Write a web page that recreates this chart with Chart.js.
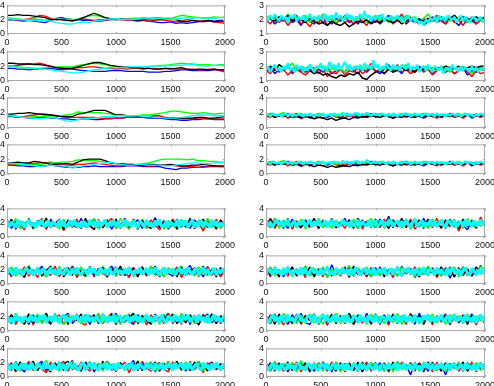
<!DOCTYPE html>
<html>
<head>
<meta charset="utf-8">
<script src="https://cdn.jsdelivr.net/npm/chart.js@4.4.1/dist/chart.umd.min.js"></script>
<style>
  html, body { margin: 0; padding: 0; background: #fff; overflow: hidden; }
  body { width: 494px; height: 386px; position: relative; }
  canvas { position: absolute; }
</style>
</head>
<body>
<script>
// axis ticks
const xTicks = [0, 500, 1000, 1500, 2000];
const yTicksWide = [0, 2, 4];
const yTicksNarrow = [1, 2, 3];

const lineColors = { blue: '#0000ff', red: '#ff0000', green: '#00ff00', black: '#000000', cyan: '#00ffff' };
// first one ends up on top in chart.js
const stackOrder = ['cyan', 'black', 'green', 'red', 'blue'];

// ---- left column, top block (slow drifting series, one value every 50 steps)
const left1 = {
  black: [2.6,2.6,2.7,2.6,2.6,2.5,2.4,2.3,2.0,2.0,2.0,1.9,1.8,2.0,2.3,2.6,2.9,2.6,2.3,2.1,2.0,2.0,2.1,2.0,1.9,2.0,2.1,2.0,2.0,2.1,2.0,2.0,1.8,1.7,1.9,1.8,1.8,1.9,1.7,1.8,1.8],
  red:   [2.2,2.1,2.0,2.0,2.1,2.3,2.6,2.5,2.2,2.0,2.0,1.9,1.9,2.0,2.1,2.0,1.9,2.0,2.0,2.0,2.1,2.0,1.9,2.0,2.0,1.9,1.8,1.9,2.0,1.9,1.8,1.7,1.8,2.0,1.9,1.8,1.7,1.8,1.7,1.6,1.5],
  green: [2.3,2.2,2.1,2.0,2.0,2.1,2.0,1.9,2.0,2.1,2.0,2.1,2.0,2.1,2.3,2.5,2.6,2.5,2.3,2.2,2.1,2.0,2.1,2.2,2.2,2.3,2.2,2.3,2.3,2.2,2.2,2.4,2.6,2.5,2.4,2.3,2.2,2.3,2.4,2.3,2.4],
  blue:  [1.9,2.0,1.9,1.8,1.9,1.8,1.7,1.6,1.9,2.2,2.3,2.1,2.0,2.0,1.9,1.9,1.8,1.8,1.9,2.0,2.0,2.1,2.0,1.9,1.8,1.9,1.8,1.7,1.6,1.6,1.7,1.5,1.6,1.5,1.6,1.7,1.8,1.9,1.8,1.9,1.9],
  cyan:  [2.2,2.1,2.0,2.0,1.9,1.9,1.8,1.9,1.8,1.6,1.5,1.4,1.4,1.6,1.7,1.6,1.8,1.9,2.0,2.1,2.1,2.0,2.1,2.0,2.1,2.2,2.1,2.1,2.2,2.1,2.0,2.1,2.2,2.3,2.2,2.3,2.3,2.2,2.2,2.3,2.3]
};
const left2 = {
  black: [2.4,2.4,2.3,2.3,2.3,2.2,2.2,2.1,2.0,1.8,1.7,1.7,1.7,1.9,2.1,2.3,2.5,2.5,2.3,2.1,2.0,1.9,1.9,1.8,1.8,1.7,1.7,1.6,1.6,1.7,1.6,1.7,1.8,1.6,1.5,1.6,1.6,1.5,1.6,1.5,1.5],
  red:   [2.0,2.0,2.1,2.2,2.3,2.3,2.4,2.2,1.9,1.8,1.8,1.7,1.7,1.8,1.8,1.9,1.9,1.8,1.7,1.7,1.6,1.7,1.6,1.7,1.7,1.6,1.7,1.7,1.6,1.7,1.7,1.6,1.6,1.6,1.6,1.5,1.5,1.6,1.6,1.4,1.2],
  green: [2.1,2.0,1.9,1.8,1.8,1.7,1.7,1.8,1.8,1.9,1.9,1.9,1.9,2.1,2.2,2.3,2.4,2.3,2.2,2.0,1.9,1.8,1.8,1.8,1.8,1.9,1.9,2.0,2.1,2.1,2.2,2.3,2.4,2.3,2.3,2.2,2.2,2.2,2.1,2.2,2.2],
  blue:  [1.7,1.7,1.6,1.6,1.5,1.6,1.6,1.7,1.7,1.6,1.5,1.6,1.6,1.5,1.4,1.4,1.3,1.3,1.3,1.4,1.4,1.4,1.3,1.3,1.3,1.3,1.2,1.2,1.2,1.3,1.3,1.4,1.5,1.5,1.4,1.4,1.4,1.4,1.5,1.5,1.5],
  cyan:  [1.9,1.9,1.8,1.8,1.7,1.7,1.6,1.6,1.5,1.4,1.3,1.2,1.1,1.1,1.2,1.4,1.5,1.6,1.7,1.8,1.8,1.8,1.9,1.9,1.9,1.9,2.0,2.0,2.0,2.0,2.1,2.1,2.1,2.2,2.2,2.1,2.0,2.0,2.1,2.1,2.1]
};
const left3 = {
  black: [1.8,1.8,1.9,1.9,2.0,1.9,1.8,1.8,1.7,1.6,1.5,1.5,1.5,1.8,1.9,2.1,2.3,2.3,2.3,2.0,1.7,1.7,1.6,1.6,1.5,1.5,1.5,1.4,1.4,1.3,1.3,1.3,1.3,1.3,1.3,1.4,1.4,1.3,1.3,1.4,1.5],
  red:   [1.7,1.6,1.5,1.5,1.6,1.7,1.8,1.7,1.7,1.6,1.5,1.4,1.4,1.4,1.4,1.4,1.4,1.3,1.3,1.3,1.3,1.3,1.4,1.4,1.4,1.5,1.5,1.6,1.6,1.4,1.3,1.3,1.2,1.2,1.2,1.3,1.3,1.2,1.2,1.2,1.2],
  green: [1.6,1.6,1.5,1.4,1.4,1.5,1.5,1.5,1.6,1.6,1.6,1.7,1.8,2.1,2.0,2.0,2.0,2.0,1.9,1.8,1.7,1.7,1.6,1.6,1.6,1.7,1.7,1.8,1.9,2.0,2.2,2.2,2.1,2.0,1.9,1.9,2.0,1.9,1.8,1.9,1.9],
  blue:  [1.5,1.5,1.4,1.4,1.3,1.3,1.4,1.4,1.3,1.3,1.2,1.2,1.1,1.1,1.2,1.2,1.1,1.1,1.2,1.2,1.3,1.3,1.4,1.4,1.4,1.4,1.3,1.3,1.3,1.2,1.1,1.1,1.0,1.0,1.1,1.1,1.2,1.2,1.1,1.1,1.1],
  cyan:  [1.7,1.6,1.5,1.4,1.3,1.3,1.2,1.3,1.4,1.3,1.1,0.9,0.9,1.1,1.2,1.3,1.3,1.4,1.5,1.5,1.6,1.6,1.6,1.6,1.6,1.5,1.5,1.4,1.4,1.3,1.3,1.3,1.4,1.5,1.6,1.7,1.7,1.7,1.6,1.6,1.6]
};
const left4 = {
  black: [1.5,1.5,1.6,1.5,1.5,1.7,1.6,1.5,1.3,1.3,1.4,1.4,1.3,1.6,1.9,2.0,2.0,2.0,1.8,1.5,1.4,1.4,1.3,1.3,1.2,1.2,1.3,1.3,1.2,1.2,1.3,1.2,1.1,1.1,1.2,1.2,1.3,1.2,1.1,1.1,1.1],
  red:   [1.3,1.3,1.2,1.3,1.4,1.4,1.5,1.5,1.6,1.4,1.3,1.2,1.2,1.3,1.3,1.4,1.5,1.4,1.3,1.2,1.1,1.1,1.2,1.2,1.2,1.1,1.1,1.1,1.2,1.2,1.2,1.1,1.0,1.0,1.0,0.9,0.9,1.0,1.1,1.0,1.0],
  green: [1.4,1.4,1.3,1.2,1.2,1.3,1.3,1.4,1.5,1.5,1.6,1.6,1.7,1.9,1.9,1.8,1.8,1.7,1.6,1.5,1.4,1.4,1.3,1.3,1.3,1.4,1.5,1.7,1.9,2.0,2.0,2.0,2.0,1.9,2.0,1.8,1.8,1.7,1.7,1.6,1.6],
  blue:  [1.2,1.2,1.1,1.1,1.0,1.0,1.1,1.1,1.2,1.1,1.0,0.9,0.9,0.9,1.0,1.0,1.1,1.0,1.0,1.0,1.0,1.0,1.1,1.1,1.1,1.0,1.0,1.0,1.0,0.8,0.7,0.6,0.8,0.8,0.9,0.9,1.0,1.0,1.0,1.0,1.0],
  cyan:  [1.5,1.4,1.4,1.3,1.2,1.1,1.0,1.1,1.2,1.1,1.1,1.0,0.8,1.0,1.1,1.2,1.3,1.4,1.5,1.6,1.4,1.3,1.2,1.2,1.3,1.3,1.2,1.2,1.2,1.1,1.1,1.2,1.3,1.4,1.5,1.5,1.4,1.4,1.5,1.5,1.5]
};

// ---- right column, top block (noisy with drift)
const right1 = {
  blue:  [1.8,2.1,1.7,2.0,1.9,2.3,1.8,2.0,1.6,2.1,1.9,1.7,2.2,1.8,2.0,1.7,2.1,1.9,2.3,1.8,2.0,1.7,2.2,1.9,1.8,2.1,1.7,2.0,2.3,1.8,1.9,2.2,1.7,2.0,1.8,2.1,1.6,1.9,2.2,1.8,2.0,1.7,2.1,1.9,1.6,2.0,1.8,2.2,1.7,2.0,1.9],
  red:   [2.0,1.7,2.2,1.8,2.1,1.6,2.0,2.3,1.7,1.9,1.5,2.0,1.8,2.2,1.6,1.9,1.7,2.1,1.8,2.0,1.7,2.2,1.9,1.6,2.1,1.8,2.3,1.9,2.1,1.7,2.0,2.4,1.8,2.2,1.9,1.7,2.1,1.8,2.0,2.3,1.9,1.7,2.2,1.8,2.0,1.6,2.1,1.9,1.7,2.0,1.8],
  green: [2.1,2.3,1.9,2.2,2.0,2.4,1.9,2.2,2.0,2.3,1.8,2.2,2.0,2.4,1.9,2.1,1.8,2.2,2.0,2.3,1.9,2.1,2.2,1.8,2.0,2.3,1.9,2.1,1.8,2.2,2.0,1.9,2.3,2.0,2.2,1.8,2.1,2.4,1.9,2.2,2.0,2.1,1.9,2.3,2.0,2.2,1.8,2.1,2.2,1.9,2.1],
  black: [1.8,2.1,1.9,2.2,2.0,2.3,1.9,2.1,2.0,1.8,2.1,1.9,1.7,1.8,1.6,1.9,1.7,1.6,1.8,1.5,1.7,1.9,1.8,2.0,1.7,1.9,1.8,2.1,1.9,1.8,2.0,1.7,1.9,2.1,1.8,2.0,1.9,2.1,1.9,2.0,2.2,1.9,2.1,2.3,2.0,2.2,2.1,1.9,2.2,2.0,2.2],
  cyan:  [2.2,1.9,2.3,2.0,2.4,2.1,1.9,2.3,2.0,2.2,1.8,2.3,2.1,2.4,1.9,2.2,2.0,2.3,1.9,2.1,2.4,2.0,2.2,1.9,2.3,2.1,2.0,2.4,1.9,2.2,2.3,2.0,2.5,2.1,2.3,1.9,2.2,2.4,2.0,2.3,1.9,2.2,2.1,2.4,2.0,2.6,2.1,2.3,1.9,2.2,2.0,2.3,2.1,2.4,1.9,2.2,2.0,2.3,1.9,2.1,2.3,2.0,2.2,1.8,2.1,2.3,1.9,2.2,1.8,2.0,1.7,1.9,1.6,2.0,1.8,2.1,1.9,2.2,1.8,2.3,2.0,2.2,1.9,2.3,2.1,2.0,2.2,1.8,2.1,2.3,1.9,2.2,2.0,1.8,2.1,2.2,1.9,2.0,2.2,1.8,2.1]
};
const right2 = {
  blue:  [1.6,1.9,1.5,1.8,1.7,2.0,1.5,1.8,1.6,1.9,1.7,1.5,1.8,1.6,1.9,1.5,1.7,1.8,1.6,2.0,1.7,1.5,1.8,1.6,1.9,1.7,1.5,1.8,2.1,1.6,1.8,1.5,1.9,1.7,1.6,2.0,1.7,1.8,1.5,1.7,1.9,1.6,1.8,1.5,1.7,1.9,1.4,1.7,1.6,1.8,1.7],
  red:   [1.7,1.5,1.9,1.6,1.8,1.4,1.7,2.0,1.6,1.4,1.7,1.9,1.5,1.8,1.3,1.6,1.5,1.8,1.4,1.7,1.6,1.9,1.5,1.7,2.2,1.6,1.8,1.5,1.9,1.7,2.1,1.6,1.8,1.5,1.7,1.9,1.6,1.8,1.4,1.7,2.0,1.6,1.8,1.5,1.7,1.9,1.6,1.3,1.7,1.5,1.6],
  green: [1.8,2.0,1.7,2.1,1.8,1.9,2.2,1.7,2.0,1.8,2.1,1.7,1.9,2.0,1.6,1.9,1.7,1.8,1.6,1.9,1.8,2.0,1.7,1.9,1.8,2.1,1.7,1.9,1.8,2.0,1.7,1.9,2.1,1.8,1.9,1.7,2.0,1.8,1.9,1.7,2.0,1.8,1.6,1.9,1.7,2.0,1.8,1.5,1.8,1.9,1.7],
  black: [1.8,2.0,1.7,2.1,1.9,2.0,1.7,1.9,1.8,1.6,1.8,1.5,1.6,1.4,1.5,1.3,1.2,1.4,1.3,1.5,1.4,1.6,1.2,1.1,1.4,1.6,1.7,1.5,1.8,1.6,1.7,1.9,1.7,1.8,1.6,1.9,1.8,2.0,1.7,1.9,1.8,2.0,1.9,1.8,2.0,1.7,1.9,2.0,1.9,2.0,2.0],
  cyan:  [1.7,2.0,1.6,1.9,2.1,1.7,1.9,1.6,2.0,1.8,2.2,1.7,1.9,1.6,2.1,1.8,2.0,1.6,1.9,1.7,2.1,1.8,1.6,2.0,1.9,2.2,1.7,2.0,1.8,2.3,1.9,2.1,1.7,2.2,1.8,2.0,2.3,1.8,2.1,1.7,1.9,2.0,1.8,2.1,1.7,2.2,1.9,2.0,1.8,2.4,1.9,2.1,1.7,2.0,1.8,2.2,1.9,1.7,2.1,1.8,2.0,1.7,2.1,1.9,1.8,2.2,1.7,2.0,1.8,2.1,1.6,1.9,2.0,1.7,2.1,1.8,1.6,2.0,1.9,1.7,2.0,1.5,1.8,1.9,1.7,2.1,1.8,1.9,1.6,2.0,1.7,1.9,1.8,1.6,2.0,1.7,1.9,1.6,1.8,1.9,1.7]
};
const right3 = {
  blue:  [1.5,1.8,1.4,1.7,1.5,1.9,1.4,1.6,1.5,1.8,1.3,1.6,1.5,1.8,1.4,1.7,1.5,1.3,1.7,1.5,1.8,1.4,1.6,1.5,1.9,1.4,1.7,1.5,1.8,1.3,1.6,1.5,1.9,1.4,1.7,1.5,1.3,1.6,1.8,1.4,1.7,1.5,1.9,1.4,1.6,1.5,1.8,1.3,1.6,1.5,1.7],
  red:   [1.6,1.4,1.8,1.5,1.7,1.3,1.6,1.9,1.2,1.6,1.4,1.7,1.5,1.3,1.6,1.8,1.4,1.6,1.3,1.7,1.5,1.8,1.4,1.6,1.5,1.9,1.4,1.7,1.5,1.3,1.6,1.8,1.4,1.7,1.5,1.6,1.4,1.8,1.5,1.3,1.7,1.5,1.8,1.4,1.6,1.3,1.7,1.5,1.6,1.4,1.7],
  green: [1.7,1.9,1.6,1.8,2.0,1.6,1.8,1.7,1.9,1.5,1.8,1.6,1.9,1.7,1.6,1.8,1.5,1.7,1.6,1.8,1.7,1.9,1.6,1.8,1.5,1.7,1.9,1.6,1.8,1.7,1.6,1.9,1.7,1.8,1.5,1.7,1.9,1.6,1.8,1.7,1.6,1.8,1.5,1.7,1.9,1.6,1.8,1.5,1.7,1.8,1.6],
  black: [1.5,1.7,1.4,1.6,1.5,1.7,1.4,1.5,1.3,1.5,1.4,1.2,1.4,1.3,1.1,1.3,1.0,1.2,1.3,1.1,1.4,1.3,1.5,1.4,1.6,1.5,1.4,1.6,1.5,1.3,1.5,1.4,1.6,1.5,1.4,1.6,1.5,1.7,1.5,1.6,1.4,1.6,1.5,1.7,1.6,1.5,1.7,1.6,1.8,1.6,1.7],
  cyan:  [1.6,1.8,1.5,1.9,1.7,1.6,1.8,1.5,1.7,1.9,1.6,1.8,1.5,1.7,1.6,1.9,1.7,1.5,1.8,1.6,1.9,1.7,1.5,1.8,1.6,1.7,1.9,1.5,1.7,1.8,1.6,1.9,1.7,1.8,1.6,2.0,1.7,1.9,1.6,1.8,1.7,2.0,1.8,1.6,1.9,1.7,2.0,1.8,1.6,1.9,1.7,1.8,1.6,1.9,1.7,1.5,1.8,1.6,1.9,1.7,1.5,1.8,1.6,1.9,1.7,1.8,1.5,1.7,1.9,1.6,1.8,1.5,1.7,1.9,1.6,1.8,1.7,1.5,1.9,1.6,1.8,1.7,1.5,1.8,1.6,1.9,1.7,1.6,1.8,1.5,1.7,1.9,1.6,1.8,1.7,1.5,1.8,1.6,1.9,1.7,1.7]
};
const right4 = {
  blue:  [1.3,1.6,1.2,1.5,1.3,1.7,1.2,1.4,1.3,1.6,1.1,1.4,1.3,1.6,1.2,1.5,1.3,1.1,1.4,1.3,1.6,1.2,1.4,1.3,1.7,1.2,1.5,1.3,1.6,1.1,1.4,1.3,1.7,1.2,1.5,1.3,1.1,1.4,1.6,1.2,1.5,1.3,1.7,1.2,1.4,1.3,1.6,1.1,1.4,1.3,1.5],
  red:   [1.4,1.2,1.6,1.3,1.5,1.1,1.4,1.7,1.0,1.4,1.2,1.5,1.3,1.1,1.4,1.6,1.2,1.4,1.1,1.5,1.3,1.6,1.2,1.4,1.3,1.7,1.2,1.5,1.3,1.1,1.4,1.6,1.2,1.5,1.3,1.4,1.2,1.6,1.3,1.1,1.5,1.3,1.6,1.2,1.4,1.1,1.5,1.3,1.4,1.2,1.5],
  green: [1.5,1.7,1.4,1.6,1.8,1.4,1.6,1.5,1.7,1.3,1.6,1.4,1.7,1.5,1.4,1.6,1.3,1.5,1.4,1.6,1.5,1.7,1.4,1.6,1.3,1.5,1.7,1.4,1.6,1.5,1.4,1.7,1.5,1.6,1.3,1.5,1.7,1.4,1.6,1.5,1.4,1.6,1.3,1.5,1.7,1.4,1.6,1.3,1.5,1.6,1.4],
  black: [1.3,1.5,1.2,1.4,1.3,1.5,1.2,1.3,1.1,1.3,1.2,1.0,1.2,1.1,0.9,1.1,0.9,1.0,1.1,1.0,1.2,1.1,1.3,1.2,1.4,1.3,1.2,1.4,1.3,1.1,1.3,1.2,1.4,1.3,1.2,1.4,1.3,1.5,1.3,1.4,1.2,1.4,1.3,1.5,1.4,1.3,1.5,1.4,1.6,1.4,1.5],
  cyan:  [1.4,1.6,1.3,1.7,1.5,1.4,1.6,1.3,1.5,1.7,1.4,1.6,1.3,1.5,1.4,1.7,1.5,1.3,1.6,1.4,1.7,1.5,1.3,1.6,1.4,1.5,1.7,1.3,1.5,1.6,1.4,1.7,1.5,1.6,1.4,1.8,1.5,1.7,1.4,1.6,1.5,1.8,1.6,1.4,1.7,1.5,1.9,1.6,1.4,1.7,1.5,1.6,1.4,1.7,1.5,1.3,1.6,1.4,1.7,1.5,1.3,1.6,1.4,1.7,1.5,1.6,1.3,1.5,1.7,1.4,1.6,1.3,1.5,1.7,1.4,1.6,1.5,1.3,1.7,1.4,1.6,1.5,1.3,1.6,1.4,1.7,1.5,1.4,1.6,1.3,1.5,1.7,1.4,1.6,1.5,1.3,1.6,1.4,1.7,1.5,1.5]
};

// ---- bottom block, left column (plain noise)
const left5 = {
  blue:  [2.5,1.2,2.2,1.6,1.1,2.6,1.4,2.3,1.9,1.2,2.5,1.5,2.1,1.0,2.4,1.7,1.3,2.6,1.4,2.0,2.5,1.2,1.8,2.4,1.1,2.2,1.5,2.6,1.3,1.9,2.4,1.2,2.1,1.6,2.7,1.3,2.3,1.1,1.8,2.5,1.4,2.2,1.2,2.4,1.7,1.1,2.5,1.5,2.3,1.3,2.2],
  red:   [1.2,2.4,1.6,2.1,1.0,2.5,1.3,1.9,2.6,1.1,2.2,1.5,2.4,0.9,2.0,1.4,2.5,1.2,2.3,1.7,1.0,2.4,1.3,2.1,2.6,1.2,1.8,2.3,1.1,2.5,1.4,2.0,1.2,2.4,1.6,1.0,2.2,1.3,2.5,1.1,2.1,1.5,2.4,1.2,2.0,0.8,2.3,1.4,2.5,1.2,2.1],
  green: [2.3,1.5,2.6,1.2,1.9,2.4,1.1,2.2,1.6,2.7,1.3,2.0,1.1,2.5,1.4,2.2,1.7,1.2,2.4,1.5,2.6,1.1,2.0,1.4,2.3,1.2,2.6,1.6,1.1,2.2,1.4,2.5,1.2,2.0,1.6,2.4,1.1,2.3,1.5,1.2,2.5,1.3,2.1,1.7,2.4,1.2,2.6,1.4,2.0,1.3,2.4],
  black: [1.3,2.5,1.1,2.2,1.7,2.4,1.2,2.0,1.5,2.6,1.3,1.9,2.5,1.1,2.3,1.4,2.1,1.2,2.6,1.5,1.1,2.4,1.3,2.2,1.6,2.5,1.2,2.0,1.4,2.4,1.1,2.3,1.6,1.2,2.5,1.3,2.1,1.5,2.4,1.1,2.2,1.4,2.6,1.2,1.9,2.5,1.3,2.2,1.1,2.4,1.5],
  cyan:  [2.3,1.4,2.1,1.8,1.3,2.4,1.6,2.2,1.3,1.9,2.4,1.5,2.0,1.3,2.2,1.7,2.4,1.4,1.6,2.3,1.3,2.1,1.9,1.4,2.4,1.5,2.2,1.3,1.8,2.3,1.5,2.4,1.4,2.0,1.3,2.2,1.7,1.4,2.4,1.6,2.1,1.3,2.3,1.5,1.9,2.4,1.3,2.0,1.6,2.3,1.4,2.2,1.3,1.8,2.4,1.5,2.1,1.4,2.3,1.6,1.3,2.2,1.9,1.4,2.4,1.5,2.0,1.3,2.3,1.7,2.4,1.4,1.6,2.2,1.3,2.1,1.8,1.5,2.4,1.3,2.2,1.6,2.3,1.4,1.9,2.4,1.3,2.0,1.5,2.3,1.4,2.1,1.7,1.3,2.4,1.6,2.2,1.4,2.0,1.5,2.3]
};
const left6 = {
  blue:  [1.1,2.3,1.5,2.0,0.9,2.4,1.3,1.8,2.5,1.0,2.1,1.4,2.3,1.1,1.7,2.5,1.2,2.0,1.5,2.4,1.0,2.2,1.3,1.9,2.5,1.1,2.1,1.6,1.0,2.3,1.4,2.4,1.2,1.8,2.5,1.0,2.2,1.5,1.1,2.3,1.3,2.0,2.6,1.2,1.9,1.0,2.4,1.4,2.1,1.1,2.2],
  red:   [2.2,1.0,1.9,1.4,2.4,1.1,2.0,0.9,2.3,1.5,1.2,2.5,1.0,2.1,1.6,2.3,0.9,1.9,1.3,2.4,1.1,2.2,1.5,1.0,2.0,2.4,1.2,1.8,0.9,2.3,1.4,2.1,1.1,2.5,1.3,1.9,1.0,2.2,1.6,2.4,0.9,2.0,1.3,2.3,1.1,1.8,2.4,1.2,2.1,1.0,2.0],
  green: [1.5,2.4,1.1,2.1,1.7,2.6,1.2,2.0,1.4,1.0,2.3,1.3,2.5,1.1,1.9,2.2,1.3,2.4,1.0,2.1,1.6,1.2,2.5,1.4,2.0,1.1,2.3,1.5,2.4,1.0,1.8,2.2,1.3,2.5,1.2,1.9,1.0,2.3,1.4,2.1,2.5,1.2,2.0,1.1,2.4,1.5,1.2,2.2,1.0,2.3,1.4],
  black: [2.3,1.2,2.0,1.5,1.0,2.4,1.3,2.2,1.1,1.9,2.5,1.4,2.0,1.0,2.3,1.2,2.1,1.6,1.1,2.4,1.3,1.9,2.3,1.0,2.1,1.4,2.5,1.2,1.8,2.2,1.0,2.4,1.3,2.0,1.5,1.1,2.3,1.4,2.1,1.0,2.4,1.2,1.9,2.2,1.1,2.5,1.3,2.0,1.0,2.3,1.4],
  cyan:  [1.3,2.2,1.6,1.2,2.3,1.5,2.0,1.2,1.8,2.3,1.4,2.1,1.2,1.7,2.3,1.3,1.9,2.2,1.2,1.6,2.3,1.4,2.0,1.2,2.2,1.5,1.3,2.3,1.8,1.2,2.1,1.4,2.3,1.6,1.2,2.0,1.9,1.3,2.3,1.5,2.2,1.2,1.7,2.3,1.4,2.0,1.2,2.2,1.6,1.3,2.3,1.5,1.9,1.2,2.2,1.4,2.3,1.7,1.2,2.0,1.5,2.3,1.3,1.8,2.2,1.2,2.1,1.4,2.3,1.6,1.2,1.9,2.3,1.3,2.0,1.5,2.2,1.2,1.7,2.3,1.4,2.1,1.2,2.3,1.6,1.3,2.0,2.2,1.2,1.8,2.3,1.4,2.1,1.3,1.6,2.3,1.2,2.0,1.5,2.2,1.4]
};
const left7 = {
  blue:  [2.1,1.0,2.3,1.4,1.8,0.9,2.2,1.2,2.0,1.5,0.9,2.3,1.1,1.9,2.4,1.0,1.7,1.3,2.2,0.9,2.0,1.4,2.3,1.1,1.8,2.4,1.0,2.1,1.3,0.9,2.2,1.5,2.0,1.0,2.3,1.2,1.7,2.4,1.0,1.9,1.3,2.2,0.9,2.1,1.4,1.8,2.3,1.1,2.0,1.0,2.2],
  red:   [1.1,2.2,0.9,1.9,1.4,2.3,0.8,2.0,1.2,2.4,1.0,1.7,2.2,0.9,2.0,1.3,2.3,1.1,0.8,2.1,1.5,2.2,1.0,1.8,2.4,0.9,2.0,1.2,2.3,1.0,1.6,2.1,0.8,2.2,1.3,1.9,1.0,2.4,1.1,1.8,0.9,2.2,1.4,2.0,0.8,2.3,1.2,1.9,1.0,2.1,1.3],
  green: [1.9,1.1,2.4,1.3,0.9,2.1,1.5,2.3,1.0,2.0,1.2,2.4,1.4,0.9,2.2,1.6,2.0,1.0,2.3,1.2,1.8,2.4,1.1,1.9,1.4,2.2,0.9,2.1,1.3,2.4,1.0,1.7,2.2,1.2,2.0,0.9,2.3,1.4,1.9,1.1,2.4,1.3,2.0,1.0,2.2,1.5,1.1,2.3,1.2,2.0,1.1],
  black: [1.0,2.2,1.3,1.9,0.9,2.3,1.1,2.0,1.5,2.4,1.0,1.8,1.2,2.2,0.9,2.1,1.4,2.3,1.1,1.7,2.2,1.0,1.9,1.3,2.3,0.9,2.0,1.2,1.8,2.4,1.0,2.1,1.4,0.9,2.2,1.2,2.0,1.5,2.3,1.0,1.9,1.1,2.2,1.3,0.9,2.1,1.4,2.3,1.0,2.0,1.2],
  cyan:  [2.1,1.2,1.8,1.1,2.2,1.4,1.9,1.1,2.0,1.6,1.2,2.2,1.3,1.9,1.1,2.1,1.5,2.2,1.1,1.7,2.0,1.2,2.2,1.4,1.1,1.9,2.2,1.3,1.8,1.1,2.1,1.5,2.2,1.2,1.6,2.0,1.1,2.2,1.3,1.9,1.2,2.1,1.4,1.1,2.2,1.7,1.2,2.0,1.3,2.2,1.1,1.8,2.1,1.2,1.5,2.2,1.1,1.9,1.4,2.2,1.2,2.0,1.1,1.7,2.2,1.3,1.9,1.1,2.1,1.6,1.2,2.2,1.4,1.1,2.0,1.8,1.2,2.2,1.3,1.9,1.1,2.1,1.5,2.2,1.2,1.7,2.0,1.1,2.2,1.4,1.9,1.2,2.1,1.1,1.6,2.2,1.3,2.0,1.2,1.8,2.1]
};
const left8 = {
  blue:  [1.9,0.9,2.2,1.3,0.7,2.0,1.1,1.7,2.2,0.8,1.9,1.2,2.1,0.9,1.6,2.3,1.0,1.8,1.3,2.1,0.7,1.9,1.1,2.2,1.4,0.8,2.0,1.2,1.7,2.3,0.9,1.9,1.1,2.1,0.7,1.8,1.3,2.2,1.0,1.6,2.0,0.8,1.9,1.2,2.2,0.9,1.7,2.1,1.0,1.9,1.2],
  red:   [1.0,2.0,0.7,1.8,1.3,2.2,0.9,1.9,1.1,0.6,2.1,1.2,1.7,2.2,0.8,1.9,1.0,2.1,1.4,0.8,2.0,1.1,1.8,2.2,0.9,1.6,1.2,2.1,0.6,1.9,1.0,2.2,1.3,0.8,1.8,2.0,1.1,0.7,2.1,1.2,1.9,0.9,2.2,1.0,1.7,0.6,2.0,1.3,1.9,0.9,2.1],
  green: [1.8,1.0,2.2,0.8,1.9,1.3,2.1,0.9,1.6,2.3,1.1,1.8,0.8,2.0,1.2,2.2,1.0,1.7,0.9,2.1,1.4,1.9,0.8,2.2,1.1,1.7,2.0,0.9,1.8,1.2,2.3,1.0,1.6,2.1,0.8,1.9,1.3,2.2,1.0,1.8,0.9,2.1,1.1,1.9,2.2,0.8,1.7,1.2,2.0,1.0,1.9],
  black: [1.1,1.9,0.8,2.1,1.2,1.7,2.2,0.9,1.9,1.3,0.7,2.0,1.1,1.8,2.2,1.0,1.6,0.8,2.1,1.2,1.9,0.9,2.2,1.1,1.7,0.8,2.0,1.3,1.9,1.0,2.2,0.9,1.8,1.2,2.1,0.8,1.9,1.1,1.6,2.2,1.0,1.8,0.9,2.1,1.3,1.9,0.8,2.0,1.1,1.8,1.0],
  cyan:  [1.9,1.0,1.7,1.2,2.0,0.9,1.5,1.9,1.1,1.8,0.9,2.0,1.3,1.0,1.9,1.6,1.1,2.0,1.2,1.7,0.9,1.9,1.4,1.0,2.0,1.2,1.8,0.9,1.6,2.0,1.1,1.9,1.3,0.9,1.8,2.0,1.0,1.5,1.9,1.1,2.0,1.2,0.9,1.8,1.4,2.0,1.0,1.7,1.1,1.9,0.9,2.0,1.3,1.6,1.0,1.9,1.2,2.0,0.9,1.7,1.1,1.9,1.4,1.0,2.0,1.2,1.8,0.9,1.9,1.5,1.1,2.0,1.0,1.7,1.3,1.9,0.9,2.0,1.2,1.6,1.9,1.0,1.8,1.1,2.0,0.9,1.5,1.9,1.2,1.0,2.0,1.3,1.7,0.9,1.9,1.1,2.0,1.4,1.0,1.8,1.2]
};

// ---- bottom block, right column
const right5 = {
  blue:  [2.4,1.3,2.6,1.5,2.0,1.2,2.5,1.7,1.3,2.3,1.6,2.6,1.2,2.1,1.5,2.5,1.3,1.9,2.6,1.4,2.2,1.2,2.4,1.6,2.0,1.3,2.5,1.5,2.9,1.3,2.2,1.6,2.5,1.2,2.0,1.4,2.6,1.3,2.3,1.5,2.1,1.2,2.5,1.4,2.2,1.6,1.0,2.4,1.3,2.6,1.5],
  red:   [1.4,2.5,1.2,2.2,1.6,2.6,1.1,2.3,1.5,2.0,1.3,2.5,1.2,2.4,1.7,2.6,1.3,2.1,1.2,2.4,1.5,2.6,1.1,2.2,1.6,2.0,1.3,2.5,1.2,2.4,1.4,2.2,1.6,2.5,1.1,2.0,1.5,2.4,1.3,2.6,1.2,2.2,1.4,2.5,0.8,2.1,1.5,2.3,1.2,2.8,1.4],
  green: [2.2,1.4,2.6,1.2,2.4,1.5,2.0,1.3,2.5,1.1,2.3,1.6,2.6,1.3,2.1,1.2,2.4,1.6,2.2,1.3,2.5,1.2,2.0,1.5,2.6,1.3,2.3,1.2,2.5,1.6,2.1,1.3,2.4,1.1,2.6,1.5,2.2,1.2,2.5,1.6,2.0,1.3,2.4,1.5,2.2,1.2,2.6,1.4,2.1,1.5,2.4],
  black: [1.3,2.6,1.5,2.3,1.2,2.5,1.6,2.0,1.3,2.4,1.5,2.6,1.2,2.2,1.4,2.5,1.3,2.1,1.6,2.4,1.2,2.6,1.5,2.2,1.3,2.5,1.6,2.0,1.2,2.4,1.5,2.6,1.3,2.2,1.6,2.4,1.2,2.5,1.4,2.0,1.3,2.4,1.6,2.3,1.2,2.5,1.5,2.1,1.3,2.4,1.6],
  cyan:  [2.4,1.5,2.1,1.4,1.9,2.4,1.6,2.2,1.4,2.0,2.4,1.5,1.8,2.3,1.4,2.1,1.7,2.4,1.5,1.9,2.4,1.4,2.2,1.6,2.4,1.5,1.8,2.3,1.4,2.0,2.4,1.5,2.2,1.4,1.7,2.4,1.6,2.1,1.4,2.3,1.5,1.9,2.4,1.4,2.2,1.7,1.5,2.4,1.4,2.0,2.3,1.5,1.8,2.4,1.4,2.1,1.6,2.4,1.5,1.9,2.3,1.4,2.2,1.5,2.4,1.7,1.4,2.1,2.4,1.5,1.8,2.3,1.4,2.0,1.6,2.4,1.5,2.2,1.4,1.9,2.4,1.6,1.4,2.3,2.0,1.5,2.4,1.4,1.8,2.2,1.5,2.4,1.6,2.1,1.4,2.3,1.5,1.9,2.4,1.6,2.2]
};
const right6 = {
  blue:  [1.1,2.3,1.5,2.0,1.0,2.4,1.3,2.1,1.6,2.5,1.2,1.9,1.4,2.3,0.9,2.7,1.3,2.0,1.5,2.4,1.1,2.2,1.4,1.8,1.0,2.3,1.2,2.1,1.6,2.0,1.1,2.5,1.4,2.2,0.9,2.0,1.3,2.4,1.5,1.9,1.1,2.3,0.8,2.1,1.4,2.4,1.2,1.9,1.3,2.6,1.4],
  red:   [2.2,1.0,2.4,1.3,1.9,1.1,2.3,1.5,2.0,0.9,2.4,1.2,2.1,1.0,2.3,1.5,1.9,1.1,2.4,0.9,2.2,1.3,2.0,1.0,2.3,1.4,2.4,1.1,2.0,0.9,2.3,1.2,1.9,1.5,2.4,1.0,2.1,1.2,2.3,0.9,2.0,1.4,2.4,1.0,2.2,1.3,2.1,1.1,1.9,1.4,2.2],
  green: [1.4,2.4,1.1,2.0,1.6,2.3,1.0,2.1,1.3,2.5,1.1,2.2,1.5,2.4,0.9,2.1,1.3,2.0,1.6,2.6,1.1,2.2,1.4,2.4,1.0,2.0,1.2,2.3,1.6,2.1,1.1,2.4,1.5,1.9,1.0,2.3,1.3,2.5,1.6,2.0,1.1,2.1,1.4,2.4,1.0,2.3,1.2,2.0,1.6,2.5,1.1],
  black: [2.3,1.2,2.0,1.0,2.2,1.5,2.4,1.1,1.9,1.3,2.3,1.0,2.1,1.5,2.4,1.1,2.0,1.2,2.3,1.0,2.5,1.3,1.9,1.1,2.2,1.5,2.3,1.0,2.0,1.2,2.4,1.1,2.1,1.5,1.9,1.0,2.3,1.2,2.2,1.1,2.4,1.5,2.0,1.0,2.3,1.2,2.1,1.1,2.4,1.5,2.3],
  cyan:  [1.2,2.1,1.7,1.3,2.3,1.5,1.9,1.2,2.2,1.4,2.3,1.6,1.2,2.0,1.8,1.3,2.3,1.4,2.1,1.2,1.7,2.3,1.5,1.9,1.2,2.2,1.3,2.0,2.3,1.4,1.6,1.2,2.2,1.8,1.3,2.3,1.5,2.0,1.2,2.1,1.4,2.3,1.7,1.2,1.9,2.2,1.3,2.0,1.5,2.3,1.2,1.8,2.1,1.4,2.3,1.2,1.6,2.2,1.3,1.9,2.3,1.5,1.2,2.1,1.7,2.3,1.3,2.0,1.4,2.2,1.2,1.8,2.3,1.5,1.3,2.1,1.9,1.2,2.3,1.4,2.0,1.6,1.2,2.2,1.3,2.3,1.7,1.4,2.1,1.2,1.9,2.3,1.5,1.3,2.2,1.8,1.2,2.0,1.4,2.3,1.3]
};
const right7 = {
  blue:  [2.1,1.0,2.3,1.2,1.8,0.9,2.2,1.3,2.4,1.1,0.9,2.1,1.3,2.3,0.8,2.0,1.4,1.9,1.0,2.3,1.5,2.1,1.1,2.4,0.9,1.8,1.3,2.2,1.0,2.3,1.4,2.0,1.1,1.8,0.9,2.4,1.2,2.2,1.0,2.0,1.5,2.3,0.8,2.1,1.1,1.9,1.4,2.3,0.9,2.0,1.1],
  red:   [1.0,2.2,1.3,1.8,0.8,2.1,1.1,2.3,0.9,1.9,1.4,2.2,1.0,2.0,0.8,2.3,1.2,1.8,1.5,2.2,0.9,2.1,1.1,1.9,1.0,2.3,1.4,1.8,0.8,2.2,1.1,2.0,0.9,2.3,1.4,1.9,1.0,2.2,0.8,2.1,1.2,2.3,0.9,1.8,1.4,2.2,1.0,2.1,0.8,2.2,1.1],
  green: [2.0,1.1,2.2,0.9,2.4,1.3,1.8,1.0,2.1,1.5,2.3,1.1,1.9,0.9,2.2,1.3,2.4,1.0,2.1,1.2,2.2,1.5,1.8,0.9,2.3,1.3,2.0,1.0,2.2,1.1,2.4,0.9,1.9,1.4,2.2,1.0,2.1,1.5,2.3,1.1,1.8,0.9,2.2,1.4,2.1,1.0,2.3,1.1,2.0,1.4,2.2],
  black: [1.1,2.1,0.9,2.3,1.3,1.8,1.0,2.2,1.1,2.1,1.5,2.3,0.9,1.9,1.3,2.2,1.0,2.1,1.1,2.4,0.9,2.2,1.4,1.8,1.1,2.3,0.9,2.0,1.3,2.2,1.0,1.8,1.1,2.3,1.5,2.1,0.9,2.2,1.1,1.8,1.4,2.1,1.0,2.3,1.2,2.1,0.9,2.2,1.3,1.9,1.0],
  cyan:  [2.0,1.1,1.7,2.2,1.3,1.9,1.1,2.1,1.5,1.2,2.2,1.4,1.8,1.1,2.0,2.2,1.3,1.6,1.1,2.1,1.9,1.2,2.2,1.4,1.1,1.8,2.2,1.3,2.0,1.1,1.7,2.2,1.2,1.9,1.4,2.1,1.1,2.2,1.5,1.2,2.0,1.8,1.1,2.2,1.3,1.9,1.1,2.1,1.6,1.2,2.2,1.4,1.1,2.0,1.8,1.2,2.2,1.3,1.7,2.1,1.1,1.9,1.4,2.2,1.2,1.6,2.0,1.1,2.2,1.3,1.8,1.1,2.1,1.5,2.2,1.2,1.9,1.1,2.0,1.4,2.2,1.2,1.7,2.1,1.1,1.9,2.2,1.3,1.5,2.0,1.1,2.2,1.4,1.8,1.2,2.1,1.1,1.9,2.2,1.3,2.0]
};
const right8 = {
  blue:  [1.9,0.8,2.1,1.1,1.7,0.7,2.0,1.0,1.9,1.2,1.6,0.8,2.0,1.1,1.8,0.7,2.1,1.0,1.9,1.3,1.6,0.8,2.1,1.0,1.7,1.2,2.0,0.8,1.9,1.0,2.1,1.3,1.7,0.3,2.0,1.1,1.8,0.8,2.1,1.0,1.7,0.3,1.9,1.2,1.8,0.8,2.0,1.0,1.7,1.2,1.9],
  red:   [0.9,1.9,1.2,2.0,0.8,1.7,1.1,2.1,0.7,1.8,1.0,2.0,1.3,1.7,0.8,2.1,1.1,1.9,0.7,2.0,1.0,1.7,1.3,2.1,0.8,1.8,1.1,2.0,0.7,1.7,1.0,2.1,1.2,1.9,0.8,2.0,1.1,1.7,0.7,2.1,1.0,1.8,1.3,2.0,0.8,1.7,1.1,2.1,0.7,1.9,1.0],
  green: [1.8,0.9,2.2,0.8,1.9,1.1,2.0,0.7,2.3,1.0,1.7,1.2,2.0,0.8,1.9,1.1,2.1,0.7,1.8,1.0,2.0,1.2,1.9,0.8,2.1,1.1,1.7,0.9,2.0,0.7,2.2,1.0,1.8,1.2,1.7,0.8,2.1,1.1,1.9,0.9,2.0,0.7,1.8,1.2,2.1,0.8,1.9,1.1,2.0,0.9,1.9],
  black: [1.0,2.0,0.8,1.9,1.2,2.1,0.9,1.7,1.1,2.0,0.7,1.9,1.0,2.1,1.2,1.7,0.8,2.0,1.1,1.9,0.9,2.1,0.7,1.8,1.2,2.0,0.9,1.9,0.8,2.1,1.1,1.7,1.0,2.0,1.2,1.9,0.7,2.1,1.1,1.8,0.8,2.0,0.9,1.9,1.2,2.1,0.8,1.7,1.1,2.0,0.9],
  cyan:  [1.8,0.9,1.5,1.9,1.0,1.7,0.9,1.9,1.3,1.0,1.9,1.2,1.6,0.9,1.8,1.9,1.1,1.4,0.9,1.9,1.7,1.0,1.9,1.2,0.9,1.6,1.9,1.1,1.8,0.9,1.5,1.9,1.0,1.7,1.2,1.9,0.9,1.9,1.3,1.0,1.8,1.6,0.9,1.9,1.1,1.7,0.9,1.9,1.4,1.0,1.9,1.2,0.9,1.8,1.6,1.0,1.9,1.1,1.5,1.9,0.9,1.7,1.2,1.9,1.0,1.4,1.8,0.9,1.9,1.1,1.6,0.9,1.9,1.3,1.9,1.0,1.7,0.9,1.8,1.2,1.9,1.0,1.5,1.9,0.9,1.7,1.9,1.1,1.3,1.8,0.9,1.9,1.2,1.6,1.0,1.9,0.9,1.7,1.9,1.1,1.8]
};

// page layout of the 16 axes boxes
const colLeft = [7, 266];
const colWidth = [218, 219];
const rowTop = [2, 48, 94, 141, 205, 252, 298, 345];
const rowBottom = [34, 81, 128, 174, 237, 284, 331, 377];

// kind: 'drift' = smooth walks, 'mixed' = noise with drift, 'noise' = flat noise
const panels = [
  { data: left1, col: 0, row: 0, yTicks: yTicksWide, kind: 'drift' },
  { data: left2, col: 0, row: 1, yTicks: yTicksWide, kind: 'drift' },
  { data: left3, col: 0, row: 2, yTicks: yTicksWide, kind: 'drift' },
  { data: left4, col: 0, row: 3, yTicks: yTicksWide, kind: 'drift' },
  { data: left5, col: 0, row: 4, yTicks: yTicksWide, kind: 'noise' },
  { data: left6, col: 0, row: 5, yTicks: yTicksWide, kind: 'noise' },
  { data: left7, col: 0, row: 6, yTicks: yTicksWide, kind: 'noise' },
  { data: left8, col: 0, row: 7, yTicks: yTicksWide, kind: 'noise' },
  { data: right1, col: 1, row: 0, yTicks: yTicksNarrow, kind: 'mixed' },
  { data: right2, col: 1, row: 1, yTicks: yTicksNarrow, kind: 'mixed' },
  { data: right3, col: 1, row: 2, yTicks: yTicksWide, kind: 'mixed' },
  { data: right4, col: 1, row: 3, yTicks: yTicksWide, kind: 'mixed' },
  { data: right5, col: 1, row: 4, yTicks: yTicksWide, kind: 'noise' },
  { data: right6, col: 1, row: 5, yTicks: yTicksWide, kind: 'noise' },
  { data: right7, col: 1, row: 6, yTicks: yTicksWide, kind: 'noise' },
  { data: right8, col: 1, row: 7, yTicks: yTicksWide, kind: 'noise' }
];

const lineWidths = {
  drift: { cyan: 1.3, other: 1.3 },
  mixed: { cyan: 2.2, other: 1.5 },
  noise: { cyan: 3, other: 1.4 }
};

const AXIS_W = 8, AXIS_H = 12, PAD_TOP = 4, PAD_RIGHT = 14;
const tickFont = { family: 'Liberation Sans, Arial, sans-serif', size: 9 };

// grey box plus short inward tick marks, matlab style
const boxFrame = {
  id: 'boxFrame',
  afterDraw(chart) {
    const { ctx, chartArea: a, scales } = chart;
    ctx.save();
    ctx.strokeStyle = '#a8a8a8';
    ctx.lineWidth = 1;
    ctx.strokeRect(a.left + 0.5, a.top + 0.5, a.right - a.left - 1, a.bottom - a.top - 1);
    ctx.beginPath();
    xTicks.forEach(v => {
      const px = Math.round(scales.x.getPixelForValue(v)) + 0.5;
      ctx.moveTo(px, a.top); ctx.lineTo(px, a.top + 2);
      ctx.moveTo(px, a.bottom); ctx.lineTo(px, a.bottom - 2);
    });
    scales.y.ticks.forEach(t => {
      const py = Math.round(scales.y.getPixelForValue(t.value)) + 0.5;
      ctx.moveTo(a.left, py); ctx.lineTo(a.left + 2, py);
      ctx.moveTo(a.right, py); ctx.lineTo(a.right - 2, py);
    });
    ctx.stroke();
    ctx.restore();
  }
};

function toPoints(values) {
  const step = 2000 / (values.length - 1);
  return values.map((v, i) => ({ x: i * step, y: v }));
}

panels.forEach(p => {
  const boxW = colWidth[p.col];
  const boxH = rowBottom[p.row] - rowTop[p.row];
  const canvas = document.createElement('canvas');
  canvas.width = AXIS_W + boxW + PAD_RIGHT;
  canvas.height = PAD_TOP + boxH + AXIS_H;
  canvas.style.left = (colLeft[p.col] - AXIS_W) + 'px';
  canvas.style.top = (rowTop[p.row] - PAD_TOP) + 'px';
  canvas.style.width = canvas.width + 'px';
  canvas.style.height = canvas.height + 'px';
  document.body.appendChild(canvas);

  const yMin = p.yTicks[0];
  const yMax = p.yTicks[p.yTicks.length - 1];
  const widths = lineWidths[p.kind];

  new Chart(canvas, {
    type: 'line',
    data: {
      datasets: stackOrder.map(name => ({
        data: toPoints(p.data[name]),
        borderColor: lineColors[name],
        borderWidth: name === 'cyan' ? widths.cyan : widths.other,
        borderJoinStyle: 'bevel',
        pointRadius: 0,
        tension: 0
      }))
    },
    options: {
      responsive: false,
      animation: false,
      devicePixelRatio: 1,
      layout: { padding: { top: PAD_TOP, right: PAD_RIGHT, left: 0, bottom: 0 } },
      plugins: {
        legend: { display: false },
        tooltip: { enabled: false }
      },
      scales: {
        x: {
          type: 'linear',
          min: 0,
          max: 2000,
          afterBuildTicks: s => { s.ticks = xTicks.map(v => ({ value: v })); },
          afterFit: s => { s.height = AXIS_H; },
          grid: { display: false, drawTicks: false },
          border: { display: false },
          ticks: { autoSkip: false, maxRotation: 0, padding: 3, color: '#111', font: tickFont, callback: v => String(v) }
        },
        y: {
          min: yMin,
          max: yMax,
          afterBuildTicks: s => { s.ticks = p.yTicks.map(v => ({ value: v })); },
          afterFit: s => { s.width = AXIS_W; },
          grid: { display: false, drawTicks: false },
          border: { display: false },
          ticks: { autoSkip: false, padding: 2, color: '#111', font: tickFont, callback: v => String(v) }
        }
      }
    },
    plugins: [boxFrame]
  });
});
</script>
</body>
</html>
